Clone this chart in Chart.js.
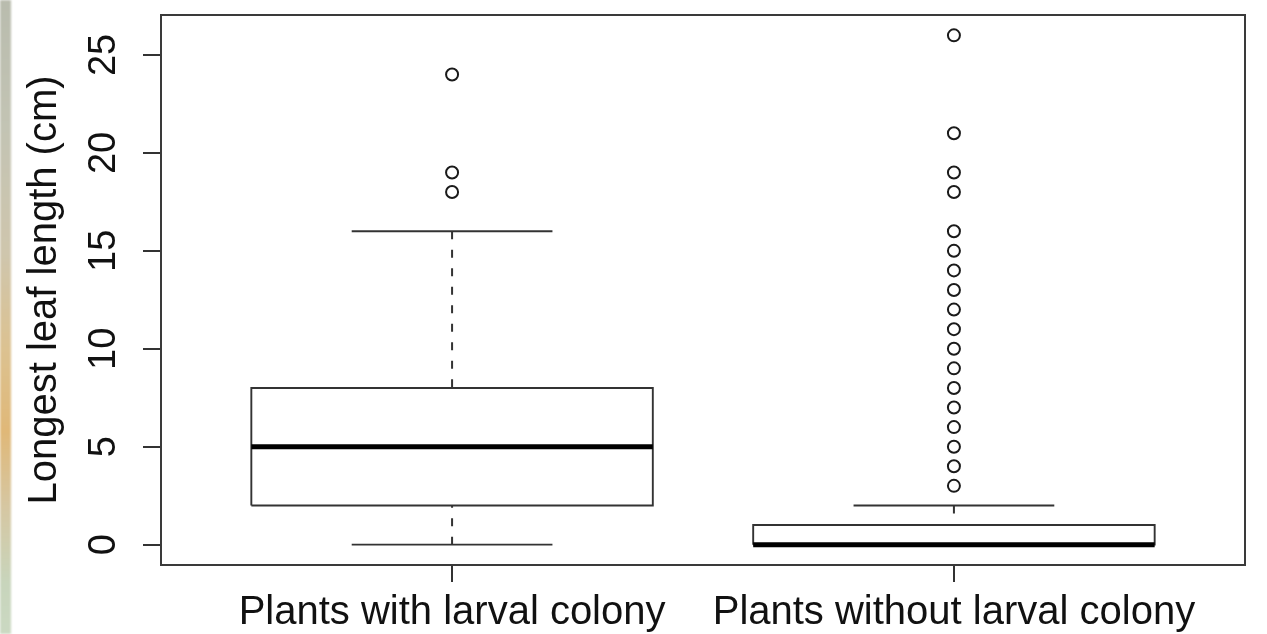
<!DOCTYPE html>
<html>
<head>
<meta charset="utf-8">
<title>Longest leaf length</title>
<script src="https://cdn.jsdelivr.net/npm/chart.js@4.4.1/dist/chart.umd.min.js"></script>
<style>
  html, body { margin: 0; padding: 0; background: #fff; }
  #wrap { position: relative; width: 1267px; height: 634px; overflow: hidden; }
  /* blurred photo edge on the left of the original screenshot */
  #edge {
    position: absolute; left: 0; top: 0; width: 11px; height: 634px;
    background: linear-gradient(to bottom, #b9bcae 0%, #c3c4b4 20%, #cfc6ad 40%, #dcc291 55%, #e0b878 68%, #d6c7a2 80%, #c8d5bc 92%, #cbd9c2 100%);
    filter: blur(1px);
  }
  #chart { position: absolute; left: 0; top: 0; }
</style>
</head>
<body>
<div id="wrap">
  <div id="edge"></div>
  <canvas id="chart" width="1267" height="634"></canvas>
</div>
<script>
  // Box plot values
  const groups = ['Plants with larval colony', 'Plants without larval colony'];
  const positions = [1, 2];
  const whiskerLow = [0, 0];
  const q1 = [2, 0];
  const medians = [5, 0];
  const q3 = [8, 1];
  const whiskerHigh = [16, 2];
  const outliersWith = [18, 19, 24];
  const outliersWithout = [3, 4, 5, 6, 7, 8, 9, 10, 11, 12, 13, 14, 15, 16, 18, 19, 21, 26];
  const yTicks = [0, 5, 10, 15, 20, 25];

  const FONT = "'Liberation Sans', Arial, Helvetica, sans-serif";
  const INK = '#111';
  const LINE = '#333';
  const BOX_HALF = 0.4;
  const CAP_HALF = 0.2;

  function seg(points, extra) {
    return Object.assign({
      type: 'scatter',
      data: points,
      showLine: true,
      pointRadius: 0,
      pointHoverRadius: 0,
      borderColor: LINE,
      borderWidth: 1.9,
      borderCapStyle: 'butt',
      fill: false,
      tension: 0
    }, extra || {});
  }

  const datasets = [];

  // medians first so they end up on top
  positions.forEach((p, i) => {
    datasets.push(seg([{ x: p - BOX_HALF, y: medians[i] }, { x: p + BOX_HALF, y: medians[i] }],
      { borderColor: '#000', borderWidth: 5 }));
  });

  positions.forEach((p, i) => {
    // box
    datasets.push(seg([
      { x: p - BOX_HALF, y: q1[i] }, { x: p + BOX_HALF, y: q1[i] },
      { x: p + BOX_HALF, y: q3[i] }, { x: p - BOX_HALF, y: q3[i] },
      { x: p - BOX_HALF, y: q1[i] }
    ], { borderJoinStyle: 'miter' }));
    // whiskers, dashed, drawn from the end toward the box
    datasets.push(seg([{ x: p, y: whiskerHigh[i] }, { x: p, y: q3[i] }], { borderDash: [8, 10.5], borderWidth: 2 }));
    datasets.push(seg([{ x: p, y: whiskerLow[i] }, { x: p, y: q1[i] }], { borderDash: [8, 10.5], borderWidth: 2 }));
    // staples
    datasets.push(seg([{ x: p - CAP_HALF, y: whiskerHigh[i] }, { x: p + CAP_HALF, y: whiskerHigh[i] }]));
    datasets.push(seg([{ x: p - CAP_HALF, y: whiskerLow[i] }, { x: p + CAP_HALF, y: whiskerLow[i] }]));
  });

  // outliers
  datasets.push({
    type: 'scatter',
    data: outliersWith.map(v => ({ x: positions[0], y: v }))
      .concat(outliersWithout.map(v => ({ x: positions[1], y: v }))),
    pointStyle: 'circle',
    pointRadius: 6,
    pointHoverRadius: 6,
    pointBorderWidth: 2,
    pointBackgroundColor: 'rgba(0,0,0,0)',
    pointBorderColor: '#1a1a1a',
    showLine: false
  });

  // full box around the plot region, like R's box()
  const frame = {
    id: 'frame',
    beforeDatasetsDraw(chart) {
      const { ctx, chartArea: a } = chart;
      ctx.save();
      ctx.strokeStyle = '#3a3a3a';
      ctx.lineWidth = 2;
      ctx.strokeRect(a.left, a.top, a.right - a.left, a.bottom - a.top);
      ctx.restore();
    }
  };

  Chart.defaults.font.family = FONT;
  Chart.defaults.color = INK;

  new Chart(document.getElementById('chart'), {
    type: 'scatter',
    data: { datasets: datasets },
    options: {
      responsive: false,
      animation: false,
      devicePixelRatio: 1,
      layout: { padding: { top: 15, right: 22, left: 0, bottom: 0 }, autoPadding: false },
      plugins: { legend: { display: false }, tooltip: { enabled: false } },
      scales: {
        x: {
          type: 'linear',
          min: 0.42,
          max: 2.58,
          afterBuildTicks: s => { s.ticks = positions.map(v => ({ value: v })); },
          afterFit: s => { s.height = 69; s.paddingLeft = 0; s.paddingRight = 0; },
          ticks: {
            callback: v => groups[positions.indexOf(v)],
            font: { size: 40 },
            color: INK,
            padding: 7,
            maxRotation: 0,
            minRotation: 0,
            autoSkip: false
          },
          grid: { drawOnChartArea: false, tickLength: 17, color: LINE, lineWidth: 2 },
          border: { display: false }
        },
        y: {
          type: 'linear',
          min: -1.04,
          max: 27.04,
          afterBuildTicks: s => { s.ticks = yTicks.map(v => ({ value: v })); },
          afterFit: s => { s.width = 161; s.paddingTop = 0; s.paddingBottom = 0; },
          ticks: {
            font: { size: 38 },
            color: INK,
            padding: 17,
            minRotation: 90,
            maxRotation: 90,
            crossAlign: 'center'
          },
          grid: { drawOnChartArea: false, tickLength: 18, color: LINE, lineWidth: 2 },
          border: { display: false },
          title: {
            display: true,
            text: 'Longest leaf length (cm)',
            font: { size: 40 },
            color: INK,
            padding: { top: 21, bottom: 0 }
          }
        }
      }
    },
    plugins: [frame]
  });
</script>
</body>
</html>
